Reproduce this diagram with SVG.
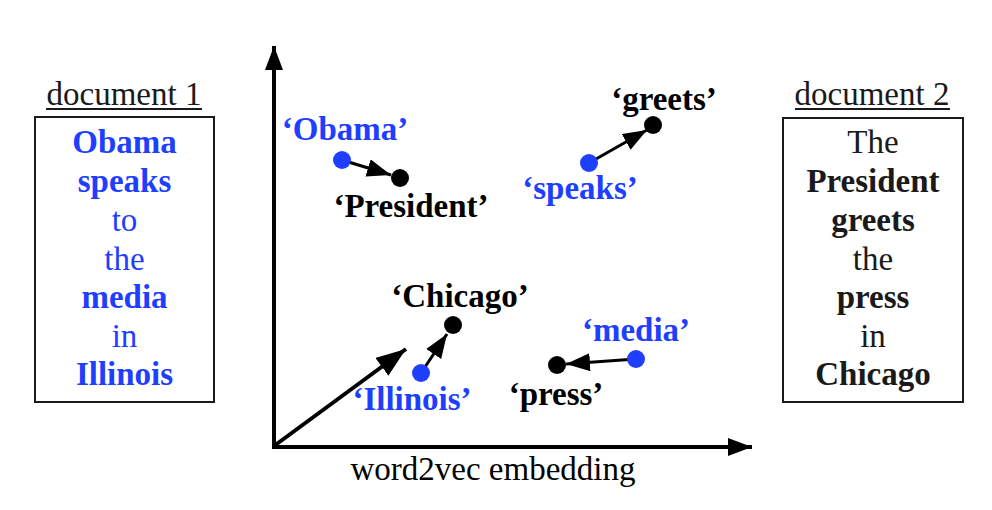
<svg xmlns="http://www.w3.org/2000/svg" width="992" height="510" viewBox="0 0 992 510">
<style>
text{font-family:"Liberation Serif","Times New Roman",serif;font-size:33px;text-anchor:middle}
.b{font-weight:bold}
.blue{fill:#1f3fff}
.dark{fill:#1a1a1a}
.box{fill:#fff;stroke:#1a1a1a;stroke-width:2}
.ax{stroke:#000;stroke-width:4;fill:none}
.ar{stroke:#000;stroke-width:3;fill:none}
.dotb{fill:#1f3fff}
.dotk{fill:#000}
</style>
<defs>
<marker id="ah" markerUnits="userSpaceOnUse" markerWidth="26" markerHeight="20" refX="24" refY="9" orient="auto" viewBox="0 0 26 20">
<path d="M0,0 L24,9 L0,18 z" fill="#000"/>
</marker>
<marker id="ahx" markerUnits="userSpaceOnUse" markerWidth="26" markerHeight="20" refX="24" refY="9" orient="auto" viewBox="0 0 26 20">
<path d="M0,0 L24,9 L0,18 z" fill="#000"/>
</marker>
<marker id="ahd" markerUnits="userSpaceOnUse" markerWidth="32" markerHeight="24" refX="30" refY="11" orient="auto" viewBox="0 0 32 24">
<path d="M0,0 L30,11 L0,22 z" fill="#000"/>
</marker>
</defs>
<g id="doc1">
<text x="124" y="105" class="dark">document 1</text>
<line x1="46" y1="109" x2="202" y2="109" stroke="#1a1a1a" stroke-width="2"/>
<rect class="box" x="35" y="117" width="179" height="285"/>
<text x="124.5" y="153" class="b blue">Obama</text>
<text x="124.5" y="192" class="b blue">speaks</text>
<text x="124.5" y="231" class="blue">to</text>
<text x="124.5" y="270" class="blue">the</text>
<text x="124.5" y="308" class="b blue">media</text>
<text x="124.5" y="347" class="blue">in</text>
<text x="124.5" y="385" class="b blue">Illinois</text>
</g>
<g id="doc2">
<text x="872" y="105" class="dark">document 2</text>
<line x1="795" y1="109" x2="950" y2="109" stroke="#1a1a1a" stroke-width="2"/>
<rect class="box" x="783" y="118" width="180" height="284"/>
<text x="873" y="153" class="dark">The</text>
<text x="873" y="192" class="b dark">President</text>
<text x="873" y="231" class="b dark">greets</text>
<text x="873" y="270" class="dark">the</text>
<text x="873" y="308" class="b dark">press</text>
<text x="873" y="347" class="dark">in</text>
<text x="873" y="385" class="b dark">Chicago</text>
</g>
<g id="connectors">
<line class="ax" x1="274" y1="448" x2="274" y2="46" marker-end="url(#ahx)"/>
<line class="ax" x1="272" y1="447" x2="752" y2="447" marker-end="url(#ahx)"/>
<line class="ax" x1="274" y1="446" x2="406" y2="349" marker-end="url(#ahd)"/>
<line class="ar" x1="342" y1="160" x2="391" y2="175" marker-end="url(#ah)"/>
<line class="ar" x1="589" y1="163" x2="647" y2="130" marker-end="url(#ah)"/>
<line class="ar" x1="421" y1="373" x2="447" y2="334" marker-end="url(#ah)"/>
<line class="ar" x1="636" y1="359" x2="566" y2="364" marker-end="url(#ah)"/>
</g>
<g id="obama">
<circle class="dotb" cx="342" cy="160" r="9"/>
<text x="345" y="140" class="b blue">‘Obama’</text>
</g>
<g id="president">
<circle class="dotk" cx="400" cy="178" r="9"/>
<text x="411" y="217" class="b">‘President’</text>
</g>
<g id="speaks">
<circle class="dotb" cx="589" cy="163" r="9"/>
<text x="580" y="199" class="b blue">‘speaks’</text>
</g>
<g id="greets">
<circle class="dotk" cx="653" cy="125" r="9"/>
<text x="664" y="110" class="b">‘greets’</text>
</g>
<g id="chicago">
<circle class="dotk" cx="453" cy="325" r="9"/>
<text x="460" y="307" class="b">‘Chicago’</text>
</g>
<g id="illinois">
<circle class="dotb" cx="421" cy="373" r="9"/>
<text x="412" y="410" class="b blue">‘Illinois’</text>
</g>
<g id="media">
<circle class="dotb" cx="636" cy="359" r="9"/>
<text x="636" y="341" class="b blue">‘media’</text>
</g>
<g id="press">
<circle class="dotk" cx="557" cy="365" r="9"/>
<text x="556" y="405" class="b">‘press’</text>
</g>
<g id="axis-label">
<text x="493" y="480">word2vec embedding</text>
</g>
</svg>
